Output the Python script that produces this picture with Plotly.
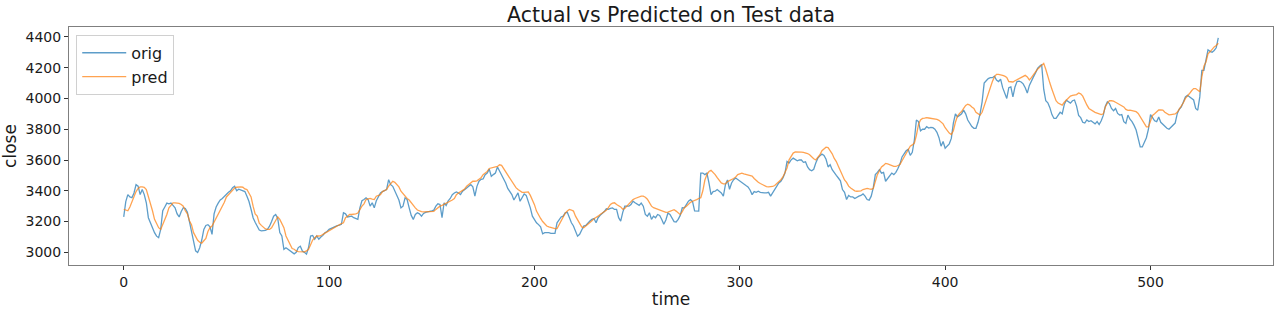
import plotly.graph_objects as go

orig = [
    3231, 3330, 3375, 3360, 3355, 3386, 3440, 3430, 3375, 3408,
    3375, 3322, 3225, 3190, 3165, 3128, 3105, 3095, 3149, 3270,
    3295, 3320, 3315, 3320, 3305, 3290, 3250, 3230, 3265, 3290,
    3285, 3260, 3200, 3130, 3060, 3010, 2999, 3030, 3080, 3149,
    3175, 3180, 3165, 3117, 3250, 3295, 3320, 3340, 3350, 3365,
    3375, 3390, 3400, 3420, 3429, 3400, 3410, 3405, 3400, 3395,
    3365, 3330, 3280, 3225, 3195, 3165, 3145, 3140, 3140, 3142,
    3150, 3170, 3200, 3235, 3246, 3220, 3128, 3106, 3020, 3030,
    3020, 3010, 3000, 2990, 3000, 3031, 3040, 3009, 3000, 2988,
    3031, 3106, 3110, 3085, 3106, 3085, 3100, 3110, 3128, 3135,
    3149, 3155, 3160, 3171, 3173, 3177, 3182, 3257, 3250, 3230,
    3235, 3235, 3225, 3218, 3214, 3289, 3335, 3343, 3354, 3343,
    3300, 3322, 3289, 3335, 3365, 3386, 3395, 3400, 3408, 3472,
    3440, 3429, 3397, 3375, 3340, 3289, 3300, 3354, 3343, 3289,
    3240, 3214, 3246, 3257, 3250, 3235, 3253, 3260, 3265, 3268,
    3270, 3274, 3300, 3315, 3311, 3225, 3322, 3305, 3335, 3350,
    3375, 3386, 3393, 3386, 3375, 3397, 3405, 3418, 3430, 3440,
    3425, 3365, 3429, 3462, 3475, 3477, 3505, 3515, 3541, 3494,
    3505, 3515, 3555, 3530, 3505, 3472, 3451, 3415, 3397, 3375,
    3340, 3365, 3386, 3332, 3354, 3380, 3370, 3332, 3289, 3235,
    3210, 3192, 3180, 3165, 3120, 3128, 3128, 3128, 3123, 3123,
    3123, 3192, 3214, 3230, 3235, 3257, 3260, 3225, 3192, 3171,
    3140, 3105, 3117, 3149, 3171, 3175, 3192, 3203, 3214, 3220,
    3192, 3225, 3240, 3250, 3265, 3283, 3279, 3285, 3289, 3279,
    3279, 3225, 3203, 3260, 3300, 3300, 3300, 3311, 3332, 3322,
    3311, 3305, 3320, 3300, 3246, 3235, 3257, 3214, 3235, 3225,
    3246, 3240, 3214, 3182, 3210, 3255, 3246, 3225, 3200, 3197,
    3214, 3240, 3290, 3289, 3311, 3332, 3343, 3330, 3270, 3268,
    3268, 3515, 3515, 3505, 3515, 3450, 3375, 3395, 3397, 3408,
    3397, 3386, 3365, 3440, 3470, 3410, 3451, 3472, 3483, 3472,
    3462, 3451, 3440, 3434, 3425, 3405, 3375, 3395, 3390, 3397,
    3390, 3386, 3386, 3386, 3390, 3365, 3386, 3408, 3429, 3451,
    3462, 3483, 3515, 3591, 3580, 3601, 3612, 3601, 3595, 3601,
    3600, 3585, 3588, 3555, 3537, 3530, 3540, 3580, 3612, 3627,
    3638, 3630, 3605, 3555, 3569, 3537, 3515, 3500, 3483, 3465,
    3408, 3390, 3343, 3370, 3360, 3360, 3350, 3360, 3365, 3370,
    3380, 3365, 3343, 3339, 3365, 3420, 3505, 3520, 3537, 3515,
    3520, 3462, 3479, 3494, 3515, 3505, 3520, 3545, 3575, 3620,
    3640, 3660, 3670, 3630, 3650, 3730, 3860, 3850, 3790, 3800,
    3800, 3817, 3808, 3812, 3810, 3800, 3780, 3745, 3690, 3720,
    3677, 3690, 3705, 3740, 3840, 3899, 3880, 3890, 3900, 3924,
    3900, 3860, 3840, 3817, 3806, 3806, 3845, 3900, 3978, 4100,
    4115, 4129, 4135, 4135, 4145, 4120, 4110, 4125, 4070, 4035,
    4000, 4070, 4075, 4011, 4075, 4110, 4112, 4107, 4095, 4070,
    4035, 4085, 4118, 4140, 4165, 4195, 4210, 4220, 4060, 3985,
    3972, 3940, 3895, 3870, 3870, 3892, 3910, 3900, 3960, 3989,
    3980, 3970, 3985, 3990, 3950, 3890, 3875, 3845, 3840, 3860,
    3850, 3855, 3845, 3835, 3850, 3830, 3855, 3890, 3950, 3978,
    3967, 3935, 3920, 3935, 3903, 3892, 3895, 3849, 3838, 3892,
    3865, 3849, 3825, 3795, 3740, 3685, 3685, 3713, 3745, 3800,
    3895, 3875, 3855, 3849, 3880, 3845, 3830, 3817, 3806, 3800,
    3815, 3828, 3840, 3900, 3930, 3945, 3985, 4010, 4021, 4011,
    4000, 3990, 3935, 3924, 4010, 4183, 4183, 4260, 4316, 4306,
    4300, 4312, 4329, 4394,
]

pred = [
    3280, 3275, 3270, 3295, 3330, 3354, 3395, 3415, 3425, 3425,
    3422, 3408, 3365, 3310, 3270, 3214, 3185, 3160, 3149, 3180,
    3215, 3246, 3290, 3305, 3322, 3322, 3322, 3318, 3311, 3300,
    3270, 3250, 3205, 3180, 3128, 3100, 3078, 3065, 3059, 3075,
    3090, 3135, 3160, 3171, 3195, 3220, 3250, 3268, 3300, 3325,
    3360, 3375, 3395, 3410, 3418, 3423, 3425, 3425, 3423, 3412,
    3408, 3380, 3360, 3300, 3250, 3235, 3190, 3175, 3160, 3152,
    3149, 3149, 3160, 3185, 3215, 3231, 3214, 3190, 3160, 3106,
    3075, 3052, 3025, 3020, 3009, 3005, 3003, 3003, 3003, 3009,
    3020, 3050, 3080, 3095, 3106, 3106, 3108, 3117, 3125, 3132,
    3140, 3147, 3158, 3165, 3171, 3182, 3187, 3192, 3225, 3235,
    3246, 3246, 3246, 3250, 3255, 3279, 3300, 3315, 3343, 3348,
    3350, 3346, 3343, 3365, 3370, 3375, 3395, 3400, 3408, 3430,
    3445, 3462, 3455, 3440, 3425, 3397, 3380, 3365, 3350, 3340,
    3322, 3300, 3289, 3275, 3268, 3265, 3263, 3263, 3263, 3263,
    3265, 3266, 3279, 3290, 3300, 3305, 3311, 3322, 3328, 3332,
    3340, 3350, 3375, 3385, 3393, 3405, 3412, 3429, 3440, 3451,
    3462, 3462, 3465, 3475, 3485, 3505, 3515, 3526, 3545, 3550,
    3554, 3556, 3558, 3569, 3565, 3545, 3520, 3498, 3480, 3462,
    3440, 3420, 3408, 3397, 3390, 3390, 3390, 3393, 3370, 3340,
    3310, 3268, 3240, 3220, 3200, 3182, 3171, 3165, 3160, 3154,
    3154, 3154, 3180, 3210, 3235, 3255, 3268, 3279, 3275, 3268,
    3235, 3210, 3185, 3165, 3160, 3170, 3180, 3192, 3205, 3218,
    3225, 3235, 3246, 3255, 3265, 3274, 3290, 3311, 3320, 3322,
    3311, 3305, 3295, 3280, 3285, 3300, 3315, 3325, 3343, 3350,
    3356, 3362, 3365, 3365, 3358, 3345, 3325, 3300, 3290, 3285,
    3282, 3279, 3272, 3266, 3260, 3262, 3268, 3272, 3277, 3268,
    3255, 3245, 3265, 3290, 3300, 3315, 3325, 3332, 3340, 3343,
    3350, 3355, 3400, 3470, 3505, 3525, 3533, 3520, 3505, 3485,
    3470, 3451, 3445, 3445, 3460, 3465, 3472, 3480, 3490, 3505,
    3510, 3515, 3510, 3507, 3505, 3500, 3495, 3480, 3465, 3455,
    3447, 3440, 3430, 3427, 3425, 3425, 3428, 3434, 3445, 3462,
    3472, 3490, 3515, 3548, 3601, 3620, 3645, 3652, 3653, 3653,
    3651, 3649, 3646, 3642, 3634, 3620, 3608, 3601, 3615, 3634,
    3660, 3672, 3683, 3680, 3660, 3640, 3610, 3590, 3560, 3530,
    3500, 3470, 3455, 3430, 3418, 3408, 3400, 3397, 3397, 3400,
    3408, 3412, 3415, 3412, 3410, 3415, 3462, 3505, 3530, 3555,
    3565, 3578, 3575, 3570, 3560, 3558, 3558, 3562, 3570, 3595,
    3620, 3645, 3672, 3690, 3698, 3710, 3760, 3830, 3860, 3870,
    3872, 3875, 3873, 3871, 3871, 3869, 3864, 3858, 3848, 3835,
    3810, 3790, 3775, 3765, 3790, 3845, 3885, 3903, 3915, 3935,
    3955, 3963, 3957, 3945, 3935, 3910, 3900, 3892, 3910, 3950,
    4000, 4040, 4080, 4110, 4140, 4157, 4157, 4155, 4150, 4145,
    4137, 4110, 4107, 4107, 4115, 4122, 4129, 4140, 4145, 4150,
    4140, 4120, 4135, 4150, 4172, 4190, 4204, 4220, 4228, 4190,
    4140, 4100, 4060, 4020, 3985, 3970, 3963, 3957, 3975, 3989,
    4005, 4015, 4020, 4021, 4025, 4036, 4030, 4015, 3980, 3958,
    3935, 3925, 3914, 3910, 3905, 3899, 3895, 3900, 3945, 3970,
    3985, 3985, 3983, 3975, 3968, 3963, 3955, 3945, 3929, 3922,
    3924, 3922, 3918, 3914, 3903, 3880, 3855, 3830, 3815, 3815,
    3850, 3890, 3900, 3910, 3925, 3925, 3924, 3910, 3903, 3893,
    3895, 3896, 3899, 3910, 3930, 3950, 3972, 4000, 4020, 4032,
    4050, 4064, 4064, 4055, 4043, 4140, 4210, 4237, 4290, 4303,
    4323, 4335, 4344, 4359,
]

time = list(range(len(orig)))

x_ticks = [0, 100, 200, 300, 400, 500]
y_ticks = [3000, 3200, 3400, 3600, 3800, 4000, 4200, 4400]

FONT = "DejaVu Sans"

fig = go.Figure()
fig.add_trace(go.Scatter(x=time, y=orig, mode="lines", name="orig",
                         line=dict(color="rgba(31,119,180,0.72)", width=1.3)))
fig.add_trace(go.Scatter(x=list(range(len(pred))), y=pred, mode="lines", name="pred",
                         line=dict(color="rgba(255,127,14,0.72)", width=1.3)))

n = max(len(orig), len(pred)) - 1
xr = [-0.05 * n, 1.05 * n]
lo = min(min(orig), min(pred))
hi = max(max(orig), max(pred))
pad = 0.05 * (hi - lo)
yr = [lo - pad, hi + pad]

axis_common = dict(
    showgrid=False, zeroline=False, showline=True, mirror=True,
    linecolor="#7f7f7f", linewidth=1,
    ticks="outside", ticklen=4, tickwidth=1, tickcolor="#333333",
    tickfont=dict(family=FONT, size=14, color="#1a1a1a"),
)

fig.update_layout(
    width=1280, height=312,
    margin=dict(l=69, r=6, t=27, b=45),
    paper_bgcolor="white", plot_bgcolor="white",
    font=dict(family=FONT, color="#1a1a1a"),
    title=dict(text="Actual vs Predicted on Test data",
               font=dict(family=FONT, size=20.5, color="#1a1a1a"),
               x=0.5, xref="paper", xanchor="center",
               y=1 - 15 / 312, yref="container", yanchor="middle"),
    xaxis=dict(range=xr, tickvals=x_ticks, ticktext=[str(v) for v in x_ticks],
               title=dict(text="time", font=dict(family=FONT, size=17), standoff=4),
               **axis_common),
    yaxis=dict(range=yr, tickvals=y_ticks, ticktext=[str(v) for v in y_ticks],
               title=dict(text="close", font=dict(family=FONT, size=17), standoff=6),
               **axis_common),
    legend=dict(x=0.006, y=0.967, xanchor="left", yanchor="top",
                bgcolor="white", bordercolor="#d0d0d0", borderwidth=1,
                font=dict(family=FONT, size=16, color="#1a1a1a"),
                tracegroupgap=0, itemwidth=44),
    showlegend=True,
)

fig.write_html("out.html")
